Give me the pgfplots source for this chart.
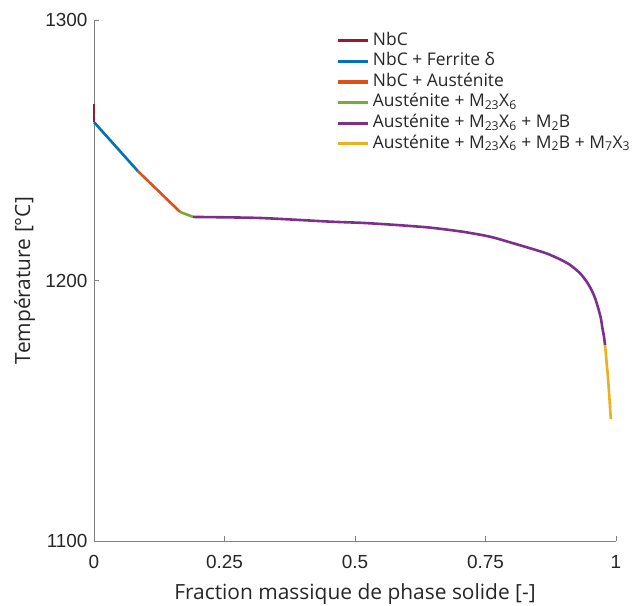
\documentclass[border=0pt]{standalone}
\usepackage{fontspec}
\setmainfont{Open Sans}
\newfontfamily\tickfont{Liberation Sans}
\usepackage{pgfplots}
\pgfplotsset{compat=1.18}
\definecolor{mred}{rgb}{0.635,0.078,0.184}
\definecolor{mblue}{rgb}{0,0.447,0.741}
\definecolor{morange}{rgb}{0.85,0.325,0.098}
\definecolor{mgreen}{rgb}{0.466,0.674,0.188}
\definecolor{mpurple}{rgb}{0.494,0.184,0.556}
\definecolor{myellow}{rgb}{0.929,0.694,0.125}
\definecolor{axgray}{gray}{0.5}
\definecolor{txt}{gray}{0.15}
\begin{document}
\begin{tikzpicture}
\useasboundingbox (-94bp,-65bp) rectangle (543bp,541bp);
\begin{axis}[
  at={(0,0)}, anchor=south west,
  scale only axis, width=522bp, height=521bp,
  xmin=0, xmax=1, ymin=1100, ymax=1300,
  clip=false,
  axis x line*=bottom, axis y line*=left,
  axis line style={-, axgray, line width=0.8bp},
  tick style={axgray, line width=0.8bp},
  tick align=inside, major tick length=5bp,
  xtick={0,0.25,0.5,0.75,1}, xticklabels={0,0.25,0.5,0.75,1},
  ytick={1100,1200,1300},
  /pgf/number format/assume math mode=true,
  ticklabel style={font=\tickfont\fontsize{19}{22}\selectfont, text=txt},
  xticklabel style={yshift=-11bp},
  yticklabel style={/pgf/number format/1000 sep={}, xshift=-3bp},
  xlabel={Fraction massique de phase solide [-]},
  ylabel={Température [°C]},
  label style={text=txt},
  xlabel style={font=\fontsize{21}{24}\selectfont, at={(axis description cs:0.5,0)}, anchor=north, yshift=-39bp},
  ylabel style={font=\fontsize{21}{24}\selectfont, at={(axis description cs:-0.133,0.5)}, anchor=center},
  legend cell align=left,
  legend style={draw=none, fill=none, at={(0.458,0.984)}, anchor=north west,
    font=\fontsize{17.5}{20}\selectfont, row sep=0bp, text=txt,
    nodes={text height=12.5bp, text depth=4bp, inner ysep=2.05bp, inner xsep=3.5bp}},
  legend image code/.code={\draw[#1, line width=3.2bp] (0bp,0bp) -- (30bp,0bp);},
  every axis plot/.append style={line width=2.6bp},
]
\addplot[mred] coordinates {(0,1267.8) (0,1260.8)};
\addlegendentry{NbC}
\addplot[mblue] coordinates {(0,1260.8) (0.084,1242.0)};
\addlegendentry{NbC + Ferrite δ}
\addplot[morange] coordinates {(0.084,1242.0) (0.165,1226.3)};
\addlegendentry{NbC + Austénite}
\addplot[mgreen] coordinates {(0.165,1226.3) (0.190,1224.4)};
\addlegendentry{Austénite + M\textsubscript{23}X\textsubscript{6}}
\addplot[mpurple, smooth, tension=0.4] coordinates {(0.190,1224.4) (0.318,1224.0) (0.452,1222.6) (0.516,1222.1) (0.580,1221.3) (0.644,1220.3) (0.707,1218.7) (0.759,1216.8) (0.803,1214.3) (0.835,1212.4) (0.867,1210.4) (0.893,1208.1) (0.912,1206.0) (0.931,1202.8) (0.944,1199.5) (0.953,1196.4) (0.960,1193.2) (0.966,1189.3) (0.971,1185.5) (0.974,1181.7) (0.977,1178.4) (0.979,1175.2)};
\addlegendentry{Austénite + M\textsubscript{23}X\textsubscript{6} + M\textsubscript{2}B}
\addplot[myellow, smooth, tension=0.4] coordinates {(0.979,1175.2) (0.985,1161.8) (0.990,1146.8)};
\addlegendentry{Austénite + M\textsubscript{23}X\textsubscript{6} + M\textsubscript{2}B + M\textsubscript{7}X\textsubscript{3}}
\end{axis}
\end{tikzpicture}
\end{document}
